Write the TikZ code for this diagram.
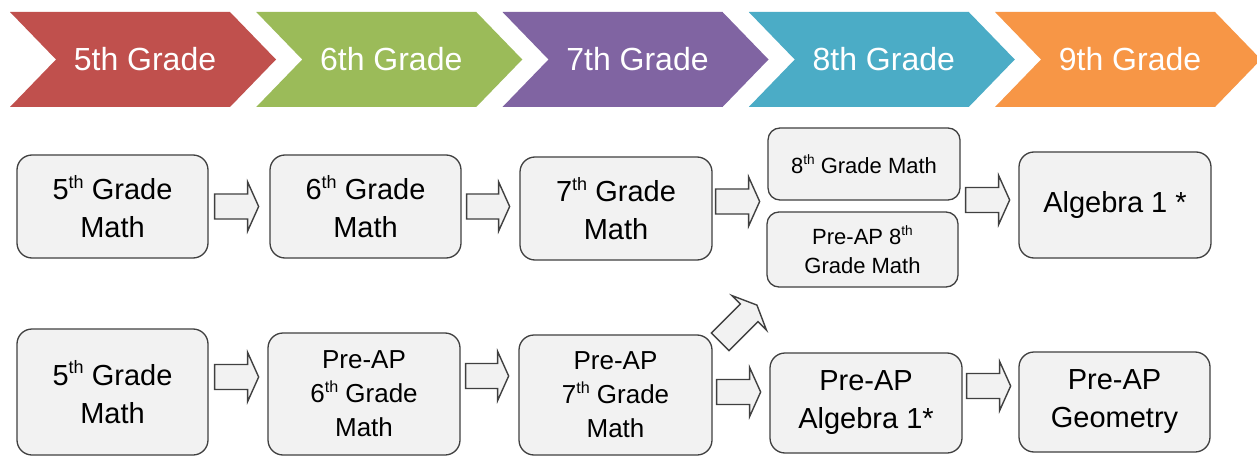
\documentclass[tikz,border=0pt]{standalone}
\usepackage{fontspec}
\usepackage{graphicx}
\setmainfont{Liberation Sans}
\usetikzlibrary{calc}
\definecolor{cred}{HTML}{C0504D}
\definecolor{cgreen}{HTML}{9BBB59}
\definecolor{cpurple}{HTML}{8064A2}
\definecolor{cblue}{HTML}{4BACC6}
\definecolor{corange}{HTML}{F79646}
\definecolor{boxfill}{HTML}{F2F2F2}
\definecolor{boxline}{HTML}{404040}
\newcommand\supt[1]{\raisebox{0.4em}{\scalebox{0.62}{#1}}}
\tikzset{
  chevtext/.style={text=white,font=\fontsize{32}{38}\selectfont,inner sep=0pt},
  gbox/.style={draw=boxline,fill=boxfill,line width=1.3pt,rounded corners=15pt,
    align=center,inner sep=2pt,text=black},
  bigtxt/.style={font=\fontsize{29}{38}\selectfont},
  midtxt/.style={font=\fontsize{26}{34}\selectfont},
  smalltxt/.style={font=\fontsize{22}{29}\selectfont,rounded corners=12pt},
  blk/.style={draw=boxline,fill=boxfill,line width=1.4pt,line join=miter},
  pics/barrow/.style={code={\draw[blk] (0,-12.5) -- ({#1-11},-12.5) -- ({#1-11},-24.5)
      -- (#1,0) -- ({#1-11},24.5) -- ({#1-11},12.5) -- (0,12.5) -- cycle;}},
  pics/barrow/.default=44,
}
\begin{document}
\begin{tikzpicture}[x=1pt,y=-1pt]
\useasboundingbox (0,0) rectangle (1257,457);
\fill[white] (0,0) rectangle (1257,457);
% chevrons
\foreach \i/\c/\t in {0/cred/5th Grade,1/cgreen/6th Grade,2/cpurple/7th Grade,3/cblue/8th Grade,4/corange/9th Grade}{
  \pgfmathsetmacro\xo{10+246.25*\i}
  \fill[\c] (\xo,12) -- ++(220,0) -- ++(46,47.5) -- ++(-46,47.5) -- ++(-220,0) -- ++(46,-47.5) -- cycle;
  \node[chevtext] (g\i) at (\xo+135,59.5) {\t};
}
% row 1
\node[gbox,bigtxt,minimum width=191pt,minimum height=103pt] (a1) at (112.5,206.5) {5\supt{th} Grade\\Math};
\node[gbox,bigtxt,minimum width=191pt,minimum height=103pt] (b1) at (365.5,206.5) {6\supt{th} Grade\\Math};
\node[gbox,bigtxt,minimum width=192pt,minimum height=103pt] (c1) at (616,208.5) {7\supt{th} Grade\\Math};
\node[gbox,smalltxt,minimum width=192pt,minimum height=72pt] (d1a) at (864,164) {8\supt{th} Grade Math};
\node[gbox,smalltxt,minimum width=191pt,minimum height=75pt] (d1b) at (862.5,249.5) {Pre-AP 8\supt{th}\\Grade Math};
\node[gbox,bigtxt,minimum width=192pt,minimum height=106pt] (e1) at (1115,205) {Algebra 1 *};
% row 2
\node[gbox,bigtxt,minimum width=191pt,minimum height=126pt] (a2) at (112.5,392) {5\supt{th} Grade\\Math};
\node[gbox,midtxt,minimum width=192pt,minimum height=122pt] (b2) at (364,394) {Pre-AP\\6\supt{th} Grade\\Math};
\node[gbox,midtxt,minimum width=193pt,minimum height=120pt] (c2) at (615.5,395) {Pre-AP\\7\supt{th} Grade\\Math};
\node[gbox,bigtxt,minimum width=192pt,minimum height=100pt] (d2) at (866,403) {Pre-AP\\Algebra 1*};
\node[gbox,bigtxt,minimum width=191pt,minimum height=100pt] (e2) at (1114.5,402) {Pre-AP\\Geometry};
\coordinate (d1e) at ($(d1a.south east)!0.5!(d1b.north east)$);
% block arrows
\pic at ($(a1.east)+(6,0)$) {barrow};
\pic at ($(b1.east)+(5,0)$) {barrow=43};
\pic at ($(c1.east)+(3,-7)$) {barrow};
\pic at ($(d1e)+(6,-6)$) {barrow};
\pic at ($(a2.east)+(6,-15)$) {barrow};
\pic at ($(b2.east)+(5,-18)$) {barrow=43};
\pic at ($(c2.east)+(4,-3)$) {barrow};
\pic at ($(d2.east)+(4,-17)$) {barrow};
\pic[rotate=45] at ($(c2.north east)+(7.5,7.5)$) {barrow=52};
\end{tikzpicture}
\end{document}
